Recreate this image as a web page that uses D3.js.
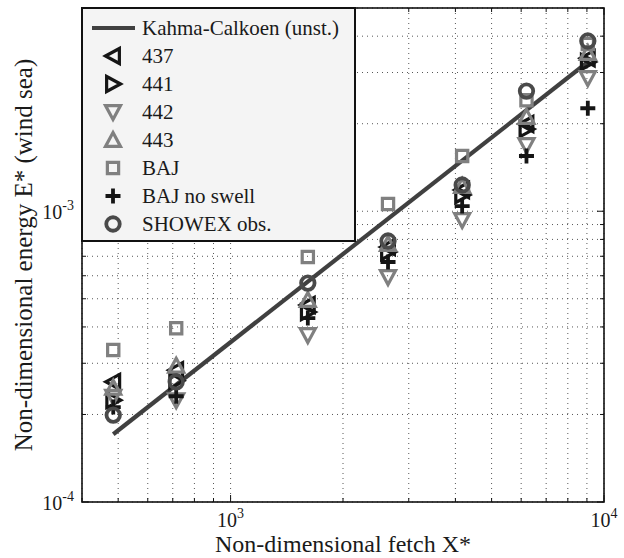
<!DOCTYPE html>
<html>
<head>
<meta charset="utf-8">
<script src="https://cdn.jsdelivr.net/npm/d3@7"></script>
<style>
body { margin: 0; background: #fff; }
text { font-family: "Liberation Serif", "Times New Roman", serif; fill: #1a1a1a; }
</style>
</head>
<body>
<svg id="chart" width="624" height="558"></svg>
<script>
// values
var fetchX  = [485, 715, 1610, 2640, 4170, 6200, 9050];
var e437    = [2.59e-4, 2.84e-4, 4.76e-4, 7.53e-4, 1.183e-3, 1.995e-3, 3.36e-3];
var e441    = [2.24e-4, 2.61e-4, 4.50e-4, 7.24e-4, 1.137e-3, 1.917e-3, 3.26e-3];
var e442    = [2.30e-4, 2.24e-4, 3.75e-4, 5.94e-4, 9.33e-4, 1.689e-3, 2.87e-3];
var e443    = [2.47e-4, 2.94e-4, 4.95e-4, 7.71e-4, 1.221e-3, 2.11e-3, 3.50e-3];
var eBAJ    = [3.33e-4, 3.96e-4, 6.96e-4, 1.059e-3, 1.548e-3, 2.41e-3, 3.76e-3];
var eBAJns  = [2.12e-4, 2.31e-4, 4.29e-4, 6.69e-4, 1.042e-3, 1.549e-3, 2.26e-3];
var eShowex = [1.99e-4, 2.59e-4, 5.66e-4, 7.90e-4, 1.231e-3, 2.59e-3, 3.85e-3];
var kahmaX  = [485, 9050];
var kahmaE  = [1.71e-4, 3.26e-3];
var xTickExp = [3, 4];
var yTickExp = [-4, -3];

var series = [
  {name: "437", values: e437, shape: "left", color: "#151515"},
  {name: "441", values: e441, shape: "right", color: "#151515"},
  {name: "442", values: e442, shape: "down", color: "#808080"},
  {name: "443", values: e443, shape: "up", color: "#808080"},
  {name: "BAJ", values: eBAJ, shape: "square", color: "#808080"},
  {name: "BAJ no swell", values: eBAJns, shape: "plus", color: "#151515"},
  {name: "SHOWEX obs.", values: eShowex, shape: "circle", color: "#4a4a4a"}
];

var svg = d3.select("#chart"),
    margin = {top: 8, right: 20, bottom: 56, left: 82},
    width = +svg.attr("width") - margin.left - margin.right,
    height = +svg.attr("height") - margin.top - margin.bottom,
    g = svg.append("g").attr("transform", "translate(" + margin.left + "," + margin.top + ")");

var x = d3.scaleLog().domain([400, 1e4]).range([0, width]),
    y = d3.scaleLog().domain([1e-4, 5e-3]).range([height, 0]);

// marker shapes, s = half size
function marker(shape, s) {
  switch (shape) {
    case "up": return "M0," + (-s) + "L" + s + "," + s * 0.85 + "L" + (-s) + "," + s * 0.85 + "Z";
    case "down": return "M0," + s + "L" + s + "," + (-s * 0.85) + "L" + (-s) + "," + (-s * 0.85) + "Z";
    case "left": return "M" + (-s) + ",0L" + s * 0.85 + "," + (-s) + "L" + s * 0.85 + "," + s + "Z";
    case "right": return "M" + s + ",0L" + (-s * 0.85) + "," + (-s) + "L" + (-s * 0.85) + "," + s + "Z";
    case "square": var q = s * 0.75; return "M" + (-q) + "," + (-q) + "H" + q + "V" + q + "H" + (-q) + "Z";
    case "plus": return "M" + (-s) + ",0H" + s + "M0," + (-s) + "V" + s;
    case "circle": var r = s * 0.9; return "M" + r + ",0A" + r + "," + r + " 0 1,1 " + (-r) + ",0A" + r + "," + r + " 0 1,1 " + r + ",0Z";
  }
}
function strokeW(shape) {
  return shape === "plus" ? 3.8 : shape === "circle" ? 3.8 : 3.2;
}

// grid
var xMinor = [], yMinor = [];
for (var k = 2; k <= 3; k++) for (var m = 1; m <= 9; m++) {
  var v = m * Math.pow(10, k);
  if (v >= 400 && v <= 1e4) xMinor.push(v);
}
xMinor.push(1e4);
for (var k = -4; k <= -3; k++) for (var m = 1; m <= 9; m++) {
  var v = m * Math.pow(10, k);
  if (v >= 1e-4 && v <= 5e-3) yMinor.push(v);
}

var grid = g.append("g").attr("class", "grid")
    .attr("stroke", "#444").attr("stroke-width", 0.9).attr("stroke-dasharray", "1,4");
grid.selectAll(".gx").data(xMinor).enter().append("line")
    .attr("x1", function(d) { return x(d); }).attr("x2", function(d) { return x(d); })
    .attr("y1", 0).attr("y2", height);
grid.selectAll(".gy").data(yMinor).enter().append("line")
    .attr("y1", function(d) { return y(d); }).attr("y2", function(d) { return y(d); })
    .attr("x1", 0).attr("x2", width);

// inward ticks on all sides
var ticks = g.append("g").attr("stroke", "#111").attr("stroke-width", 1);
xMinor.forEach(function(d) {
  var len = Math.abs(Math.log10(d) % 1) < 1e-9 ? 7 : 4;
  ticks.append("line").attr("x1", x(d)).attr("x2", x(d)).attr("y1", height).attr("y2", height - len);
  ticks.append("line").attr("x1", x(d)).attr("x2", x(d)).attr("y1", 0).attr("y2", len);
});
yMinor.forEach(function(d) {
  var len = Math.abs(Math.log10(d) % 1) < 1e-9 ? 7 : 4;
  ticks.append("line").attr("y1", y(d)).attr("y2", y(d)).attr("x1", 0).attr("x2", len);
  ticks.append("line").attr("y1", y(d)).attr("y2", y(d)).attr("x1", width).attr("x2", width - len);
});

// Kahma-Calkoen line
var line = d3.line()
    .x(function(d) { return x(d[0]); })
    .y(function(d) { return y(d[1]); });
g.append("path")
    .datum(d3.zip(kahmaX, kahmaE))
    .attr("d", line)
    .attr("fill", "none")
    .attr("stroke", "#404040")
    .attr("stroke-width", 4.2);

// markers
series.forEach(function(s) {
  g.append("g").selectAll("path")
    .data(d3.zip(fetchX, s.values))
    .enter().append("path")
      .attr("transform", function(d) { return "translate(" + x(d[0]) + "," + y(d[1]) + ")"; })
      .attr("d", marker(s.shape, 7.5))
      .attr("fill", "none")
      .attr("stroke", s.color)
      .attr("stroke-width", strokeW(s.shape));
});

// axes box
g.append("rect").attr("width", width).attr("height", height)
    .attr("fill", "none").attr("stroke", "#111").attr("stroke-width", 1.6);

// tick labels
xTickExp.forEach(function(e) {
  var t = g.append("text").attr("x", x(Math.pow(10, e))).attr("y", height + 25)
      .attr("text-anchor", "middle").style("font-size", "20px");
  t.append("tspan").text("10");
  t.append("tspan").attr("dy", -9).style("font-size", "14px").text(e);
});
yTickExp.forEach(function(e) {
  var t = g.append("text").attr("x", -8).attr("y", y(Math.pow(10, e)) + 8)
      .attr("text-anchor", "end").style("font-size", "20px");
  t.append("tspan").text("10");
  t.append("tspan").attr("dy", -9).style("font-size", "14px").text(e);
});

// axis titles
g.append("text")
    .attr("x", width / 2).attr("y", height + 50)
    .attr("text-anchor", "middle").style("font-size", "24px")
    .text("Non-dimensional fetch X*");
g.append("text")
    .attr("transform", "translate(-50," + height / 2 + ") rotate(-90)")
    .attr("text-anchor", "middle").style("font-size", "25px")
    .text("Non-dimensional energy E* (wind sea)");

// legend
var legend = g.append("g");
legend.append("rect").attr("x", 0).attr("y", 0).attr("width", 273).attr("height", 233)
    .attr("fill", "#f4f4f4").attr("stroke", "#111").attr("stroke-width", 2);
var rowY = function(i) { return 20 + i * 28; };
legend.append("line").attr("x1", 10).attr("x2", 53).attr("y1", rowY(0)).attr("y2", rowY(0))
    .attr("stroke", "#404040").attr("stroke-width", 4.2);
legend.append("text").attr("x", 60).attr("y", rowY(0) + 7).style("font-size", "21px")
    .text("Kahma-Calkoen (unst.)");
series.forEach(function(s, i) {
  legend.append("path")
      .attr("transform", "translate(31," + rowY(i + 1) + ")")
      .attr("d", marker(s.shape, 7.5))
      .attr("fill", "none").attr("stroke", s.color).attr("stroke-width", strokeW(s.shape));
  legend.append("text").attr("x", 60).attr("y", rowY(i + 1) + 7).style("font-size", "21px")
      .text(s.name);
});
</script>
</body>
</html>
